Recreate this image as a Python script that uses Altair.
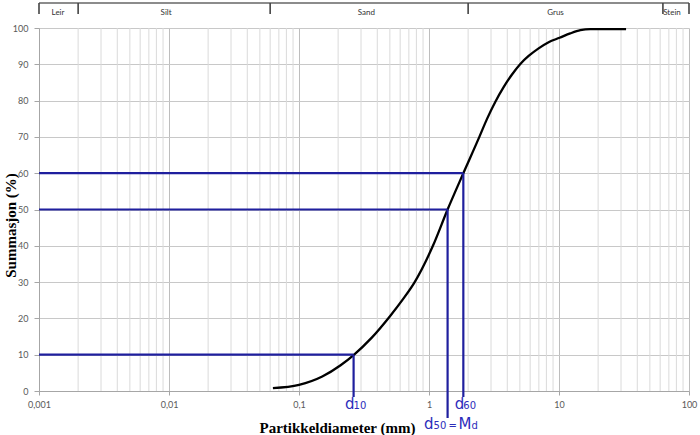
import altair as alt
import pandas as pd

# ---- data ----
size_mm = [0.063, 0.1, 0.151, 0.209, 0.263, 0.363, 0.501, 0.631, 0.776, 1.072, 1.39,
           1.837, 2.44, 2.79, 3.24, 3.75, 4.35, 5.04, 5.84, 6.97, 8.32, 10.1,
           12.2, 14.6, 17.4, 32.8]
passing = [0.8, 1.7, 4.0, 7.1, 9.9, 14.7, 20.6, 25.3, 30.0, 40.0, 50,
           60, 70, 74.9, 79.7, 83.7, 87.2, 90.1, 92.3, 94.4, 96.1, 97.3,
           98.5, 99.4, 99.7, 99.7]

d_sub = ["10", "50", "60"]
d_levels = [10, 50, 60]
d_sizes = [0.263, 1.39, 1.837]

x_ticks = [0.001, 0.01, 0.1, 1, 10, 100]
x_tick_labels = ["0,001", "0,01", "0,1", "1", "10", "100"]
y_ticks = [0, 10, 20, 30, 40, 50, 60, 70, 80, 90, 100]
minor_grid = [m * d for d in [0.001, 0.01, 0.1, 1, 10] for m in range(2, 10)]

class_names = ["Leir", "Silt", "Sand", "Grus", "Stein"]
class_label_pos = [0.0014, 0.0095, 0.33, 9.4, 74]
class_bounds = [0.001, 0.002, 0.06, 2, 63, 100]

# ---- tables ----
curve_df = pd.DataFrame({"d": size_mm, "p": passing})
dl_df = pd.DataFrame({"sub": d_sub, "level": d_levels, "size": d_sizes,
                      "start": [x_ticks[0]] * len(d_sizes)})
minor_df = pd.DataFrame({"v": minor_grid})
cls_df = pd.DataFrame({"name": class_names, "pos": class_label_pos})
bnd_df = pd.DataFrame({"b": class_bounds})
top_df = pd.DataFrame({"a": [class_bounds[0]], "b": [class_bounds[-1]]})

xs = alt.Scale(type="log", domain=[x_ticks[0], x_ticks[-1]], nice=False)
ys = alt.Scale(domain=[0, 100], nice=False)

label_expr = " : ".join(
    f"datum.value < {v * 1.5} ? '{lab}'" for v, lab in zip(x_ticks, x_tick_labels)
) + " : ''"

XAX = alt.Axis(
    values=x_ticks, labelExpr=label_expr, title="Partikkeldiameter (mm)",
    grid=True, gridColor="#bdbdbd", tickSize=4, tickColor="#a6a6a6",
    domainColor="#a6a6a6", labelFont="Lato", labelFontSize=9,
    labelColor="#595959", labelPadding=5, labelFlush=False,
    titleFont="Liberation Serif", titleFontWeight="bold", titleFontSize=15,
    titleColor="black", titleX=298, titleY=41, titleBaseline="alphabetic",
    titleAlign="center")
YAX = alt.Axis(
    values=y_ticks, title="Summasjon (%)", grid=True, gridColor="#c8c8c8",
    tickSize=5, tickColor="#a6a6a6", domainColor="#a6a6a6",
    labelFont="Lato", labelFontSize=9, labelColor="#595959", labelPadding=6,
    titleFont="Liberation Serif", titleFontWeight="bold", titleFontSize=15,
    titleColor="black", titleX=-24, titleY=197, titleBaseline="alphabetic",
    titleAlign="center", titleAngle=270)


def X(f):
    return alt.X(f, scale=xs, axis=XAX)


def Y(f):
    return alt.Y(f, scale=ys, axis=YAX)


BLUE = "#1f1f9e"
TBLUE = "#2d2dbb"
TFONT = "DejaVu Sans"

minor = alt.Chart(minor_df).mark_rule(color="#dadada", strokeWidth=1).encode(x=X("v:Q"))

curve = alt.Chart(curve_df).mark_line(
    color="black", strokeWidth=2.3, interpolate="monotone"
).encode(x=X("d:Q"), y=Y("p:Q"))

hlines = alt.Chart(dl_df).mark_rule(color=BLUE, strokeWidth=2.2).encode(
    x=X("start:Q"), x2="size:Q", y=Y("level:Q")
)
vline_a = alt.Chart(dl_df).transform_filter("datum.level != 50").mark_rule(
    color=BLUE, strokeWidth=2.2).encode(x=X("size:Q"), y=Y("level:Q"), y2=alt.value(369))
vline_b = alt.Chart(dl_df).transform_filter("datum.level == 50").mark_rule(
    color=BLUE, strokeWidth=2.2).encode(x=X("size:Q"), y=Y("level:Q"), y2=alt.value(390))

# d10 / d60 labels
d1060 = alt.Chart(dl_df).transform_filter("datum.level != 50")
d_big = d1060.mark_text(align="right", baseline="alphabetic", dx=1, fontSize=15,
                        font=TFONT, color=TBLUE).encode(
    x=X("size:Q"), y=alt.value(381), text=alt.value("d"))
d_small = d1060.mark_text(align="left", baseline="alphabetic", dx=0, fontSize=10,
                          font=TFONT, color=TBLUE).encode(
    x=X("size:Q"), y=alt.value(381), text="sub:N")

# d50 = Md label
d50 = alt.Chart(dl_df).transform_filter("datum.level == 50")
m1 = d50.mark_text(align="right", baseline="alphabetic", dx=-14, fontSize=15,
                   font=TFONT, color=TBLUE).encode(
    x=X("size:Q"), y=alt.value(401), text=alt.value("d"))
m2 = d50.mark_text(align="left", baseline="alphabetic", dx=-14, fontSize=10,
                   font=TFONT, color=TBLUE).encode(
    x=X("size:Q"), y=alt.value(401), text="sub:N")
m3 = d50.mark_text(align="left", baseline="alphabetic", dx=1, fontSize=10,
                   font=TFONT, color=TBLUE).encode(
    x=X("size:Q"), y=alt.value(401), text=alt.value("="))
m4 = d50.mark_text(align="left", baseline="alphabetic", dx=11, fontSize=15,
                   font=TFONT, color=TBLUE).encode(
    x=X("size:Q"), y=alt.value(401), text=alt.value("M"))
m5 = d50.mark_text(align="left", baseline="alphabetic", dx=24, fontSize=10,
                   font=TFONT, color=TBLUE).encode(
    x=X("size:Q"), y=alt.value(401), text=alt.value("d"))

# soil class band on top
top_line = alt.Chart(top_df).mark_rule(color="#666666", strokeWidth=1.3).encode(
    x=X("a:Q"), x2="b:Q", y=alt.value(-25)
)
bnd_ticks = alt.Chart(bnd_df).mark_rule(color="#444444", strokeWidth=1.6).encode(
    x=X("b:Q"), y=alt.value(-25), y2=alt.value(-14)
)
cls_text = alt.Chart(cls_df).mark_text(
    fontSize=8, font="Lato", color="#333333", baseline="alphabetic"
).encode(x=X("pos:Q"), y=alt.value(-13), text="name:N")

chart = alt.layer(
    minor, curve, hlines, vline_a, vline_b, d_big, d_small, m1, m2, m3, m4, m5,
    top_line, bnd_ticks, cls_text
).properties(
    width=650, height=363,
    autosize=alt.AutoSizeParams(type="none"),
    padding={"left": 39, "top": 28, "right": 11, "bottom": 44},
    background="white"
).configure_view(stroke=None)

chart.save("out.html", embed_options={"renderer": "svg", "actions": False})
